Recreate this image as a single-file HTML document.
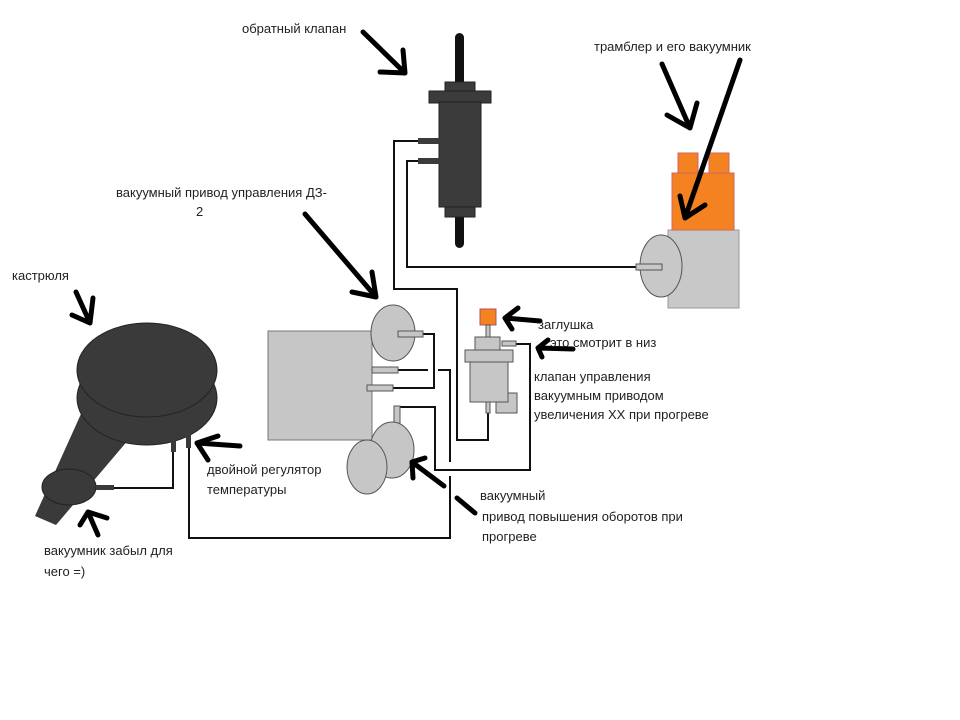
<!DOCTYPE html>
<html><head><meta charset="utf-8"><style>
html,body{margin:0;padding:0;background:#fff;}
svg{display:block}
text{font-family:"Liberation Sans","DejaVu Sans",sans-serif;font-size:13px;fill:#222}
</style></head><body>
<svg width="960" height="720" viewBox="0 0 960 720" xmlns="http://www.w3.org/2000/svg">
<rect width="960" height="720" fill="#fff"/>
<g fill="none" stroke="#111" stroke-width="2">
<polyline points="420,141 394,141 394,289 457,289 457,440 488,440 488,413"/>
<polyline points="420,161 407,161 407,267 638,267"/>
<polyline points="515,344 530,344 530,470 435,470 435,407 397,407"/>
<polyline points="423,334 434,334 434,388 393,388"/>
<polyline points="398,370 428,370"/>
<polyline points="438,370 450,370 450,462"/>
<polyline points="450,476 450,538 189,538 189,448"/>
<polyline points="114,488 173,488 173,450"/>
</g>
<rect x="455" y="33" width="9" height="215" rx="4.5" fill="#111"/>
<rect x="445" y="82" width="30" height="11" fill="#3b3b3b" stroke="#222"/>
<rect x="429" y="91" width="62" height="12" fill="#3b3b3b" stroke="#222"/>
<rect x="439" y="102" width="42" height="105" fill="#3b3b3b" stroke="#222"/>
<rect x="445" y="207" width="30" height="10" fill="#3b3b3b" stroke="#222"/>
<rect x="418" y="138" width="22" height="6" fill="#3b3b3b"/>
<rect x="418" y="158" width="22" height="6" fill="#3b3b3b"/>
<rect x="668" y="230" width="71" height="78" fill="#c8c8c8" stroke="#999"/>
<rect x="672" y="173" width="62" height="57" fill="#f58220" stroke="#c66"/>
<rect x="678" y="153" width="20" height="20" fill="#f58220" stroke="#c66"/>
<rect x="709" y="153" width="20" height="20" fill="#f58220" stroke="#c66"/>
<ellipse cx="661" cy="266" rx="21" ry="31" fill="#c8c8c8" stroke="#555"/>
<rect x="636" y="264" width="26" height="6" fill="#c8c8c8" stroke="#555"/>
<rect x="268" y="331" width="104" height="109" fill="#c6c6c6" stroke="#777"/>
<ellipse cx="393" cy="333" rx="22" ry="28" fill="#c6c6c6" stroke="#555"/>
<rect x="398" y="331" width="25" height="6" fill="#c6c6c6" stroke="#555"/>
<rect x="372" y="367" width="26" height="6" fill="#c6c6c6" stroke="#555"/>
<rect x="367" y="385" width="26" height="6" fill="#c6c6c6" stroke="#555"/>
<rect x="394" y="406" width="6" height="19" fill="#c6c6c6" stroke="#555"/>
<ellipse cx="392" cy="450" rx="22" ry="28" fill="#c6c6c6" stroke="#555"/>
<ellipse cx="367" cy="467" rx="20" ry="27" fill="#c6c6c6" stroke="#555"/>
<rect x="480" y="309" width="16" height="16" fill="#f58220" stroke="#a55"/>
<rect x="486" y="325" width="4" height="12" fill="#c6c6c6" stroke="#555"/>
<rect x="475" y="337" width="25" height="15" fill="#c6c6c6" stroke="#555"/>
<rect x="502" y="341" width="14" height="5" fill="#c6c6c6" stroke="#555"/>
<rect x="496" y="393" width="21" height="20" fill="#c6c6c6" stroke="#555"/>
<rect x="470" y="360" width="38" height="42" fill="#c6c6c6" stroke="#555"/>
<rect x="465" y="350" width="48" height="12" fill="#c6c6c6" stroke="#555"/>
<rect x="486" y="402" width="4" height="11" fill="#c6c6c6" stroke="#555"/>
<polygon points="85,405 135,432 56,525 35,516" fill="#3a3a3a"/>
<ellipse cx="147" cy="398" rx="70" ry="47" fill="#3a3a3a" stroke="#222"/>
<ellipse cx="147" cy="370" rx="70" ry="47" fill="#3a3a3a" stroke="#222"/>
<ellipse cx="69" cy="487" rx="27" ry="18" fill="#3a3a3a" stroke="#222"/>
<rect x="96" y="485" width="18" height="5" fill="#3a3a3a"/>
<rect x="171" y="438" width="5" height="14" fill="#3a3a3a"/>
<rect x="186" y="434" width="5" height="14" fill="#3a3a3a"/>
<g fill="none" stroke="#000" stroke-width="5" stroke-linecap="round" stroke-linejoin="round">
<path d="M363,32 L405,73 M380,72 L405,73 L403,50"/>
<path d="M662,64 L690,128 M667,115 L690,128 L697,103"/>
<path d="M740,60 L685,218 M680,196 L685,218 L705,205"/>
<path d="M305,214 L376,297 M352,292 L376,297 L372,272"/>
<path d="M76,292 L90,323 M72,315 L90,323 L93,298"/>
<path d="M240,446 L197,443 M208,460 L197,443 L218,436"/>
<path d="M98,535 L88,512 M80,525 L88,512 L107,518"/>
<path d="M540,321 L505,318 M512,329 L505,318 L518,308"/>
<path d="M573,349 L538,348 M542,357 L538,348 L548,340"/>
<path d="M444,486 L412,462 M413,478 L412,462 L425,458"/>
<path d="M457,498 L475,513"/>
</g>
<text x="242" y="33">обратный клапан</text>
<text x="594" y="51">трамблер  и его вакуумник</text>
<text x="116" y="197">вакуумный  привод управления ДЗ-</text>
<text x="196" y="216">2</text>
<text x="12" y="280">кастрюля</text>
<text x="538" y="329">заглушка</text>
<text x="550" y="347">это смотрит в низ</text>
<text x="534" y="381">клапан управления</text>
<text x="534" y="400">вакуумным приводом</text>
<text x="534" y="419">увеличения ХХ при прогреве</text>
<text x="207" y="474">двойной регулятор</text>
<text x="207" y="494">температуры</text>
<text x="480" y="500">вакуумный</text>
<text x="482" y="521">привод повышения оборотов при</text>
<text x="482" y="541">прогреве</text>
<text x="44" y="555">вакуумник забыл для</text>
<text x="44" y="576">чего =)</text>
</svg>
</body></html>
